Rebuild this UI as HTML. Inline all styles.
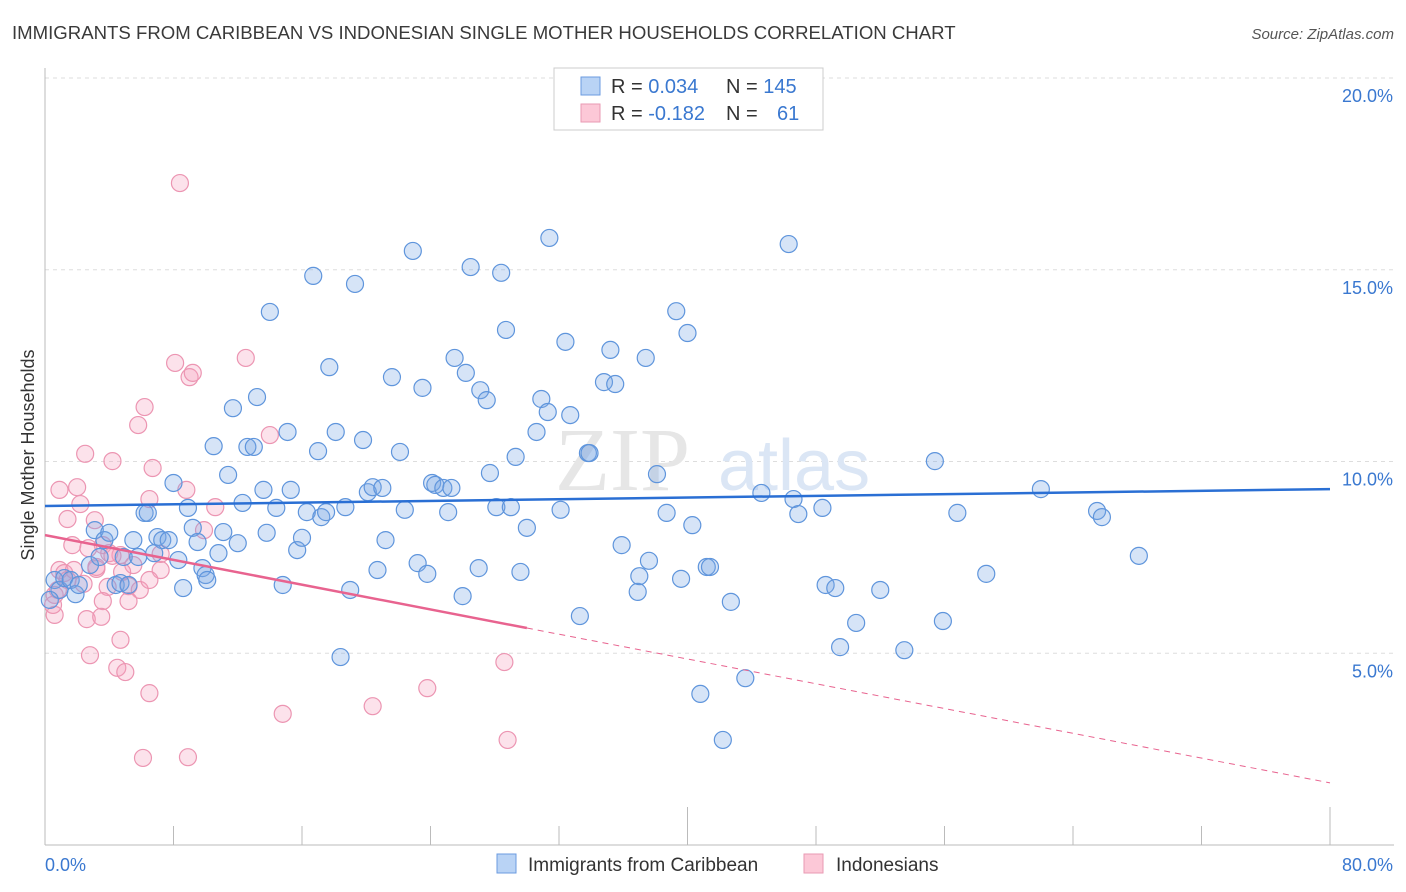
<!DOCTYPE html>
<html><head><meta charset="utf-8"><style>
body{margin:0;background:#fff;font-family:"Liberation Sans",sans-serif;}
svg{display:block}
</style></head><body>
<svg id="chart" width="1406" height="892" xmlns="http://www.w3.org/2000/svg">
<text x="12" y="39" font-size="18.6" fill="#3a3a3a">IMMIGRANTS FROM CARIBBEAN VS INDONESIAN SINGLE MOTHER HOUSEHOLDS CORRELATION CHART</text>
<text x="1394" y="39" font-size="15" font-style="italic" fill="#555" text-anchor="end">Source: ZipAtlas.com</text>
<text transform="translate(34,455) rotate(-90)" font-size="18" fill="#333" text-anchor="middle">Single Mother Households</text>
<g id="grid"></g>
<g id="axes"></g>
<text x="555" y="490" font-size="90" font-family="Liberation Serif" fill="#e6e6e6">ZIP</text>
<text x="718" y="490" font-size="72" fill="#dbe6f5">atlas</text>
<g id="pinkPts"></g>
<g id="bluePts"></g>
<g id="trends"></g>
<g>
<rect x="554" y="68" width="269" height="62" fill="#fff" stroke="#ccc"/>
<rect x="581" y="77" width="19" height="18" fill="#b9d3f5" stroke="#6b9be0"/>
<rect x="581" y="104" width="19" height="18" fill="#fcc8d7" stroke="#e99ab3"/>
<text x="611" y="93" font-size="20" fill="#333">R = <tspan fill="#3a78d0">0.034</tspan><tspan x="726">N = </tspan><tspan fill="#3a78d0">145</tspan></text>
<text x="611" y="120" font-size="20" fill="#333">R = <tspan fill="#3a78d0">-0.182</tspan><tspan x="726">N = </tspan><tspan x="777" fill="#3a78d0">61</tspan></text>
</g>
<g>
<rect x="497" y="854" width="19" height="19" fill="#b9d3f5" stroke="#6b9be0"/>
<text x="528" y="871" font-size="19" fill="#333">Immigrants from Caribbean</text>
<rect x="804" y="854" width="19" height="19" fill="#fcc8d7" stroke="#e99ab3"/>
<text x="836" y="871" font-size="19" fill="#333">Indonesians</text>
</g>
</svg>
<script>
const yTicks=[5,10,15,20];
const yTickLabels=["5.0%","10.0%","15.0%","20.0%"];
const xTicks=[0,8,16,24,32,40,48,56,64,72,80];
const xEndLabels=["0.0%","80.0%"];
const blueX=[0.6,0.9,0.3,1.2,1.6,1.9,2.1,2.8,3.1,3.4,3.7,4.0,4.4,4.7,5.2,4.9,5.5,5.8,6.2,6.4,6.8,7.0,7.3,7.7,8.0,8.3,8.6,8.9,9.2,9.5,9.8,10.0,10.1,10.5,10.8,11.1,11.4,11.7,12.0,12.3,12.6,13.0,13.2,13.6,13.8,14.0,14.4,14.8,15.1,15.3,15.7,16.0,16.3,16.7,17.0,17.2,17.5,17.7,18.1,18.4,18.7,19.0,19.3,19.8,20.1,20.4,20.7,21.0,21.2,21.6,22.1,22.4,22.9,23.2,23.5,23.8,24.1,24.3,24.8,25.1,25.3,25.5,26.0,26.2,26.5,27.0,27.1,27.5,27.7,28.1,28.4,28.7,29.0,29.3,29.6,30.0,30.6,30.9,31.3,31.4,32.1,32.4,32.7,33.3,33.8,33.9,34.8,35.2,35.5,35.9,36.9,37.0,37.4,37.6,38.1,38.7,39.3,39.6,40.0,40.3,40.8,41.2,41.4,42.2,42.7,43.6,44.6,46.3,46.6,46.9,48.4,48.6,49.2,49.5,50.5,52.0,53.5,55.4,55.9,56.8,58.6,62.0,65.5,65.8,68.1];
const blueY=[6.91,6.65,6.39,6.96,6.91,6.54,6.78,7.30,8.21,7.51,7.95,8.14,6.78,6.83,6.78,7.51,7.95,7.51,8.66,8.66,7.61,8.03,7.95,7.95,9.44,7.43,6.70,8.79,8.27,7.90,7.22,7.04,6.91,10.40,7.61,8.16,9.65,11.39,7.87,8.92,10.38,10.38,11.68,9.26,8.14,13.90,8.79,6.78,10.77,9.26,7.69,8.01,8.68,14.84,10.27,8.55,8.68,12.46,10.77,4.90,8.81,6.65,14.63,10.56,9.20,9.33,7.17,9.31,7.95,12.20,10.25,8.74,15.49,7.35,11.92,7.07,9.44,9.39,9.31,8.68,9.31,12.70,6.49,12.31,15.07,7.22,11.86,11.60,9.70,8.81,14.92,13.43,8.81,10.12,7.12,8.27,10.77,11.63,11.29,15.83,8.74,13.12,11.21,5.97,10.22,10.22,12.07,12.91,12.02,7.82,6.60,7.01,12.70,7.41,9.67,8.66,13.92,6.94,13.35,8.34,3.94,7.25,7.25,2.74,6.34,4.35,9.18,15.67,9.02,8.63,8.79,6.78,6.70,5.16,5.79,6.65,5.08,10.01,5.84,8.66,7.07,9.28,8.71,8.55,7.54];
const pinkX=[8.4,8.1,9.0,9.2,12.5,6.2,5.8,14.0,2.5,4.2,6.7,0.9,2.0,2.2,8.8,6.5,10.6,1.4,3.1,9.9,1.7,3.6,2.7,4.7,5.5,7.2,4.8,0.9,1.2,3.2,5.2,5.9,3.9,3.6,5.2,0.6,2.6,3.5,4.7,2.8,4.5,5.0,6.5,14.8,20.4,23.8,28.6,28.8,6.1,8.9,0.6,0.5,0.8,1.8,2.4,3.2,4.0,7.2,6.5,1.4,4.2];
const pinkY=[17.26,12.57,12.20,12.31,12.70,11.42,10.95,10.69,10.20,10.01,9.83,9.26,9.33,8.89,9.26,9.02,8.81,8.50,8.47,8.21,7.82,7.82,7.74,7.56,7.30,7.17,7.12,7.17,7.09,7.20,6.75,6.65,6.73,6.36,6.36,6.00,5.89,5.95,5.35,4.95,4.62,4.51,3.96,3.42,3.62,4.09,4.77,2.74,2.27,2.29,6.52,6.26,6.65,7.17,6.81,7.25,7.61,7.59,6.91,6.91,7.54];
const blueTrend=[8.84,9.28];
const pinkTrend=[8.08,1.62];
const pinkSolidEnd=30;

const NS="http://www.w3.org/2000/svg";
const X=v=>45+v*(1330-45)/80;
const Y=v=>845-v*(845-78)/20;
function mk(tag,attrs,parent){const e=document.createElementNS(NS,tag);for(const k in attrs)e.setAttribute(k,attrs[k]);parent.appendChild(e);return e;}
const grid=document.getElementById('grid'),axes=document.getElementById('axes');
yTicks.forEach((t,i)=>{
  const l=mk('line',{x1:45,x2:1394,y1:Y(t),y2:Y(t),stroke:'#ddd','stroke-dasharray':'4,4'},grid);
  
  
  const tx=mk('text',{x:1393,y:Y(t)+24,'font-size':18,fill:'#3a78d0','text-anchor':'end'},axes);
  tx.textContent=yTickLabels[i];
  
  
});
const topGrid=mk('line',{x1:45,x2:1394,y1:78,y2:78,stroke:'#ddd','stroke-dasharray':'4,4'},grid);


const ya=mk('line',{x1:45,x2:45,y1:68,y2:845,stroke:'#bbb'},axes);


const xa=mk('line',{x1:45,x2:1394,y1:845,y2:845,stroke:'#bbb'},axes);


xTicks.forEach(t=>{
  const major=(t%40===0);
  const tk=mk('line',{x1:X(t),x2:X(t),y1:major?807:826,y2:845,stroke:'#bbb'},axes);
  
  
});
[[0,'start'],[80,'end']].forEach((p,i)=>{
  const tx=mk('text',{x:i?1393:45,y:871,'font-size':18,fill:'#3a78d0','text-anchor':p[1]},axes);
  tx.textContent=xEndLabels[i];
  
  
});
const pg=document.getElementById('pinkPts');
pinkX.forEach((x,i)=>{
  const c=mk('circle',{cx:X(x),cy:Y(pinkY[i]),r:8.5,fill:'rgba(246,160,188,0.3)',stroke:'#ec95b2','stroke-width':1.2},pg);
  
  
});
const bg=document.getElementById('bluePts');
blueX.forEach((x,i)=>{
  const c=mk('circle',{cx:X(x),cy:Y(blueY[i]),r:8.5,fill:'rgba(120,165,230,0.3)',stroke:'#5f95dc','stroke-width':1.2},bg);
  
  
});
const tg=document.getElementById('trends');
const bt=mk('line',{x1:X(0),y1:Y(blueTrend[0]),x2:X(80),y2:Y(blueTrend[1]),stroke:'#2a6fd4','stroke-width':2.5},tg);


const pAt=v=>pinkTrend[0]+(pinkTrend[1]-pinkTrend[0])*v/80;
const ps=mk('line',{x1:X(0),y1:Y(pAt(0)),x2:X(pinkSolidEnd),y2:Y(pAt(pinkSolidEnd)),stroke:'#e8638f','stroke-width':2.5},tg);


const pd=mk('line',{x1:X(pinkSolidEnd),y1:Y(pAt(pinkSolidEnd)),x2:X(80),y2:Y(pAt(80)),stroke:'#e8638f','stroke-width':1,'stroke-dasharray':'6,5'},tg);


</script>
</body></html>
